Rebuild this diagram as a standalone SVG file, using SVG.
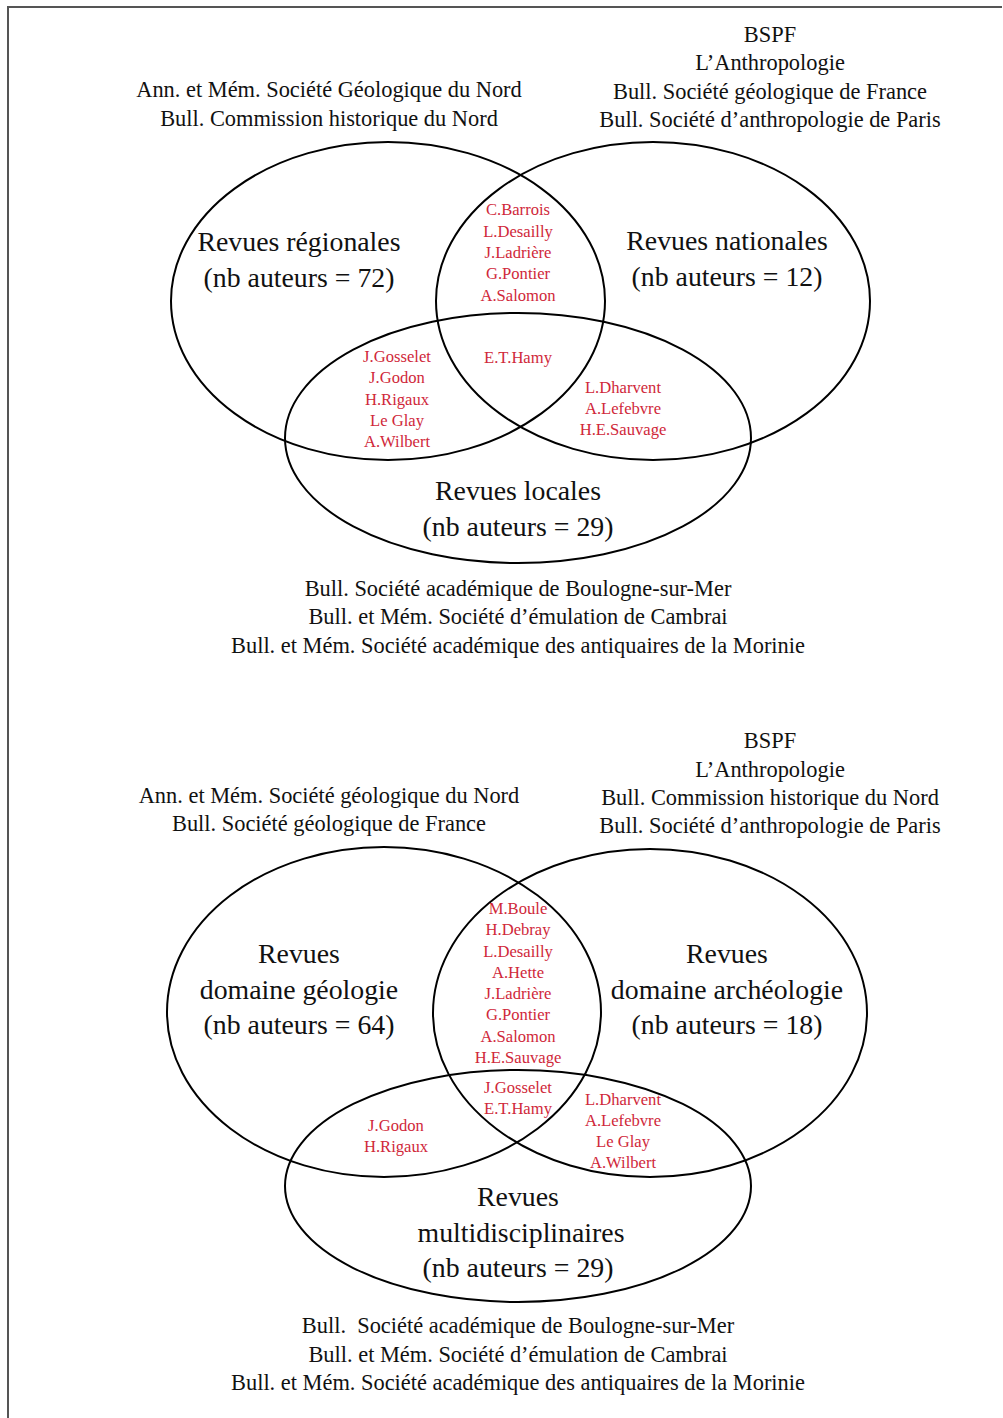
<svg xmlns="http://www.w3.org/2000/svg" width="1003" height="1418" viewBox="0 0 1003 1418">
<style>
.e{fill:none;stroke:#000;stroke-width:2}
.t{font-family:"Liberation Serif",serif;font-size:22.4px;fill:#111;text-anchor:middle}
.b{font-family:"Liberation Serif",serif;font-size:27.8px;fill:#111;text-anchor:middle}
.r{font-family:"Liberation Serif",serif;font-size:16.6px;fill:#d0283a;text-anchor:middle}
</style>
<rect width="1003" height="1418" fill="#fff"/>
<path d="M8,1418 V7 H1002" fill="none" stroke="#555" stroke-width="2"/>
<g id="diagram1">
  <g id="set-regionales"><ellipse class="e" cx="388" cy="301" rx="217" ry="159"/>
    <text class="b" x="299" y="251">Revues régionales</text>
    <text class="b" x="299" y="287">(nb auteurs = 72)</text></g>
  <g id="set-nationales"><ellipse class="e" cx="653" cy="301" rx="217" ry="159"/>
    <text class="b" x="727" y="250">Revues nationales</text>
    <text class="b" x="727" y="286">(nb auteurs = 12)</text></g>
  <g id="set-locales"><ellipse class="e" cx="518" cy="438" rx="233" ry="125"/>
    <text class="b" x="518" y="500">Revues locales</text>
    <text class="b" x="518" y="536">(nb auteurs = 29)</text></g>
  <g id="titles1">
    <text class="t" x="329" y="97">Ann. et Mém. Société Géologique du Nord</text>
    <text class="t" x="329" y="126">Bull. Commission historique du Nord</text>
    <text class="t" x="770" y="42">BSPF</text>
    <text class="t" x="770" y="70">L’Anthropologie</text>
    <text class="t" x="770" y="99">Bull. Société géologique de France</text>
    <text class="t" x="770" y="127">Bull. Société d’anthropologie de Paris</text>
    <text class="t" x="518" y="596">Bull. Société académique de Boulogne-sur-Mer</text>
    <text class="t" x="518" y="624">Bull. et Mém. Société d’émulation de Cambrai</text>
    <text class="t" x="518" y="653">Bull. et Mém. Société académique des antiquaires de la Morinie</text>
  </g>
  <g id="names1">
    <text class="r" x="518" y="215">C.Barrois</text>
    <text class="r" x="518" y="237">L.Desailly</text>
    <text class="r" x="518" y="258">J.Ladrière</text>
    <text class="r" x="518" y="279">G.Pontier</text>
    <text class="r" x="518" y="301">A.Salomon</text>
    <text class="r" x="518" y="363">E.T.Hamy</text>
    <text class="r" x="397" y="362">J.Gosselet</text>
    <text class="r" x="397" y="383">J.Godon</text>
    <text class="r" x="397" y="405">H.Rigaux</text>
    <text class="r" x="397" y="426">Le Glay</text>
    <text class="r" x="397" y="447">A.Wilbert</text>
    <text class="r" x="623" y="393">L.Dharvent</text>
    <text class="r" x="623" y="414">A.Lefebvre</text>
    <text class="r" x="623" y="435">H.E.Sauvage</text>
  </g>
</g>
<g id="diagram2">
  <g id="set-geologie"><ellipse class="e" cx="384" cy="1012" rx="217" ry="165"/>
    <text class="b" x="299" y="963">Revues</text>
    <text class="b" x="299" y="999">domaine géologie</text>
    <text class="b" x="299" y="1034">(nb auteurs = 64)</text></g>
  <g id="set-archeologie"><ellipse class="e" cx="650" cy="1013" rx="217" ry="164"/>
    <text class="b" x="727" y="963">Revues</text>
    <text class="b" x="727" y="999">domaine archéologie</text>
    <text class="b" x="727" y="1034">(nb auteurs = 18)</text></g>
  <g id="set-multi"><ellipse class="e" cx="518" cy="1186" rx="233" ry="116"/>
    <text class="b" x="518" y="1206">Revues</text>
    <text class="b" x="521" y="1242">multidisciplinaires</text>
    <text class="b" x="518" y="1277">(nb auteurs = 29)</text></g>
  <g id="titles2">
    <text class="t" x="329" y="803">Ann. et Mém. Société géologique du Nord</text>
    <text class="t" x="329" y="831">Bull. Société géologique de France</text>
    <text class="t" x="770" y="748">BSPF</text>
    <text class="t" x="770" y="777">L’Anthropologie</text>
    <text class="t" x="770" y="805">Bull. Commission historique du Nord</text>
    <text class="t" x="770" y="833">Bull. Société d’anthropologie de Paris</text>
    <text class="t" x="518" y="1333" xml:space="preserve">Bull.  Société académique de Boulogne-sur-Mer</text>
    <text class="t" x="518" y="1362">Bull. et Mém. Société d’émulation de Cambrai</text>
    <text class="t" x="518" y="1390">Bull. et Mém. Société académique des antiquaires de la Morinie</text>
  </g>
  <g id="names2">
    <text class="r" x="518" y="914">M.Boule</text>
    <text class="r" x="518" y="935">H.Debray</text>
    <text class="r" x="518" y="957">L.Desailly</text>
    <text class="r" x="518" y="978">A.Hette</text>
    <text class="r" x="518" y="999">J.Ladrière</text>
    <text class="r" x="518" y="1020">G.Pontier</text>
    <text class="r" x="518" y="1042">A.Salomon</text>
    <text class="r" x="518" y="1063">H.E.Sauvage</text>
    <text class="r" x="518" y="1093">J.Gosselet</text>
    <text class="r" x="518" y="1114">E.T.Hamy</text>
    <text class="r" x="396" y="1131">J.Godon</text>
    <text class="r" x="396" y="1152">H.Rigaux</text>
    <text class="r" x="623" y="1105">L.Dharvent</text>
    <text class="r" x="623" y="1126">A.Lefebvre</text>
    <text class="r" x="623" y="1147">Le Glay</text>
    <text class="r" x="623" y="1168">A.Wilbert</text>
  </g>
</g>
</svg>
